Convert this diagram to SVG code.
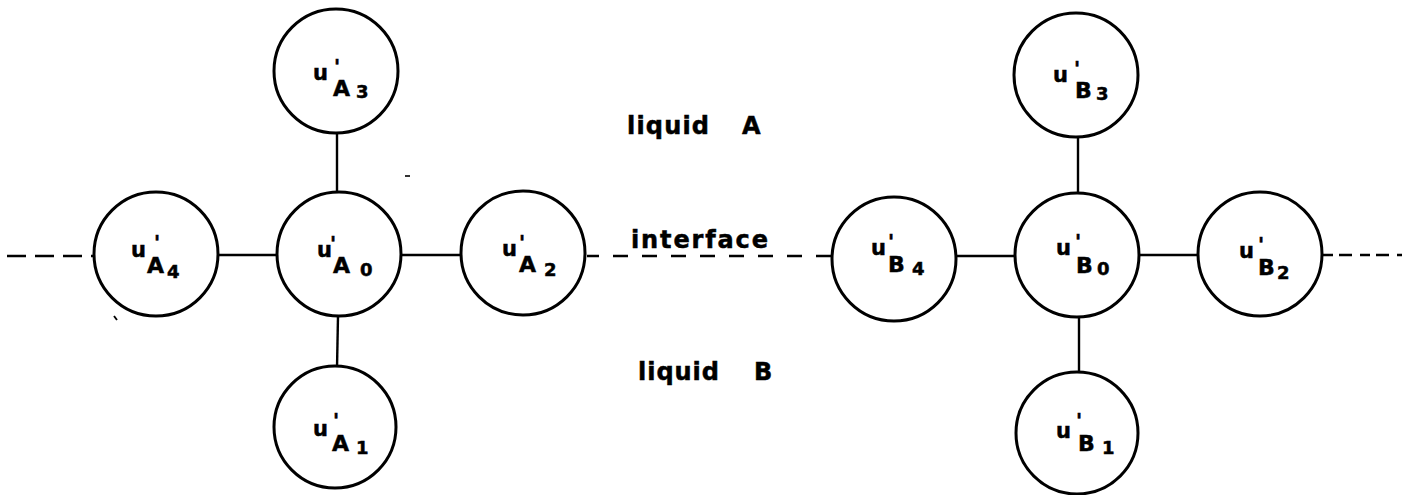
<svg xmlns="http://www.w3.org/2000/svg" width="1407" height="495" viewBox="0 0 1407 495">
  <style>
    .node circle { fill: #fff; stroke: #000; stroke-width: 3; }
    .link { stroke: #000; stroke-width: 2.4; fill: none; }
    .dash { stroke: #000; stroke-width: 2.4; fill: none; }
    text { font-family: "DejaVu Sans", "Liberation Sans", sans-serif; font-weight: bold; fill: #000; stroke: #000; stroke-width: 0.5; }
  </style>

  <!-- connectors: solid bonds and the dashed interface line -->
  <g id="connectors">
    <line class="link" x1="218" y1="255" x2="277" y2="255"/>
    <line class="link" x1="401" y1="255" x2="461" y2="255"/>
    <line class="link" x1="337" y1="133" x2="337" y2="193"/>
    <line class="link" x1="338" y1="316" x2="337" y2="368"/>
    <line class="link" x1="956" y1="256" x2="1015" y2="256"/>
    <line class="link" x1="1139" y1="255" x2="1198" y2="255"/>
    <line class="link" x1="1078" y1="137" x2="1078" y2="193"/>
    <line class="link" x1="1079" y1="317" x2="1079" y2="373"/>
    <line class="dash" x1="7" y1="256" x2="93" y2="256" stroke-dasharray="19 9"/>
    <line class="dash" x1="587" y1="256" x2="832" y2="256" stroke-dasharray="12 14 15 14 15 14 15 14 15 14 15 14 15 14 15 14 15 14"/>
    <line class="dash" x1="1323" y1="255" x2="1402" y2="255" stroke-dasharray="10 6 13 8"/>
  </g>

  <!-- liquid A side -->
  <g id="uA3" class="node">
    <circle cx="336" cy="71" r="62"/>
    <text><tspan x="313" y="80" font-size="21">u</tspan><tspan x="334" y="73" font-size="20">'</tspan><tspan x="333" y="96" font-size="22">A</tspan><tspan x="356" y="98" font-size="18">3</tspan></text>
  </g>
  <g id="uA4" class="node">
    <circle cx="156" cy="254" r="62"/>
    <text><tspan x="131" y="257" font-size="21">u</tspan><tspan x="154" y="249" font-size="20">'</tspan><tspan x="147" y="273" font-size="22">A</tspan><tspan x="167" y="278" font-size="18">4</tspan></text>
  </g>
  <g id="uA0" class="node">
    <circle cx="339" cy="254" r="62"/>
    <text><tspan x="317" y="257" font-size="21">u</tspan><tspan x="330" y="250" font-size="20">'</tspan><tspan x="333" y="273" font-size="22">A</tspan><tspan x="360" y="276" font-size="18">0</tspan></text>
  </g>
  <g id="uA2" class="node">
    <circle cx="523" cy="253" r="62"/>
    <text><tspan x="502" y="256" font-size="21">u</tspan><tspan x="519" y="249" font-size="20">'</tspan><tspan x="519" y="272" font-size="22">A</tspan><tspan x="544" y="276" font-size="18">2</tspan></text>
  </g>
  <g id="uA1" class="node">
    <circle cx="335" cy="427" r="61"/>
    <text><tspan x="313" y="436" font-size="21">u</tspan><tspan x="333" y="427" font-size="20">'</tspan><tspan x="332" y="451" font-size="22">A</tspan><tspan x="356" y="454" font-size="18">1</tspan></text>
  </g>

  <!-- liquid B side -->
  <g id="uB3" class="node">
    <circle cx="1076" cy="75" r="62"/>
    <text><tspan x="1053" y="82" font-size="21">u</tspan><tspan x="1074" y="75" font-size="20">'</tspan><tspan x="1075" y="98" font-size="22">B</tspan><tspan x="1096" y="100" font-size="18">3</tspan></text>
  </g>
  <g id="uB4" class="node">
    <circle cx="894" cy="259" r="62"/>
    <text><tspan x="871" y="255" font-size="21">u</tspan><tspan x="888" y="248" font-size="20">'</tspan><tspan x="888" y="272" font-size="22">B</tspan><tspan x="912" y="275" font-size="18">4</tspan></text>
  </g>
  <g id="uB0" class="node">
    <circle cx="1077" cy="255" r="62"/>
    <text><tspan x="1056" y="255" font-size="21">u</tspan><tspan x="1075" y="248" font-size="20">'</tspan><tspan x="1076" y="273" font-size="22">B</tspan><tspan x="1097" y="275" font-size="18">0</tspan></text>
  </g>
  <g id="uB2" class="node">
    <circle cx="1260" cy="254" r="62"/>
    <text><tspan x="1239" y="258" font-size="21">u</tspan><tspan x="1258" y="251" font-size="20">'</tspan><tspan x="1258" y="275" font-size="22">B</tspan><tspan x="1277" y="279" font-size="18">2</tspan></text>
  </g>
  <g id="uB1" class="node">
    <circle cx="1077" cy="433" r="61"/>
    <text><tspan x="1056" y="438" font-size="21">u</tspan><tspan x="1076" y="427" font-size="20">'</tspan><tspan x="1078" y="451" font-size="22">B</tspan><tspan x="1102" y="454" font-size="18">1</tspan></text>
  </g>

  <!-- region labels -->
  <text x="627" y="134" font-size="24" textLength="82" lengthAdjust="spacing">liquid</text>
  <text x="742" y="134" font-size="24">A</text>
  <text x="631" y="248" font-size="24" textLength="137" lengthAdjust="spacing">interface</text>
  <text x="638" y="380" font-size="24" textLength="81" lengthAdjust="spacing">liquid</text>
  <text x="754" y="380" font-size="24">B</text>

  <!-- stray pen marks -->
  <path d="M405 176 L410 176" stroke="#000" stroke-width="1.6"/>
  <path d="M114 316 L117 320" stroke="#000" stroke-width="1.8"/>
</svg>
